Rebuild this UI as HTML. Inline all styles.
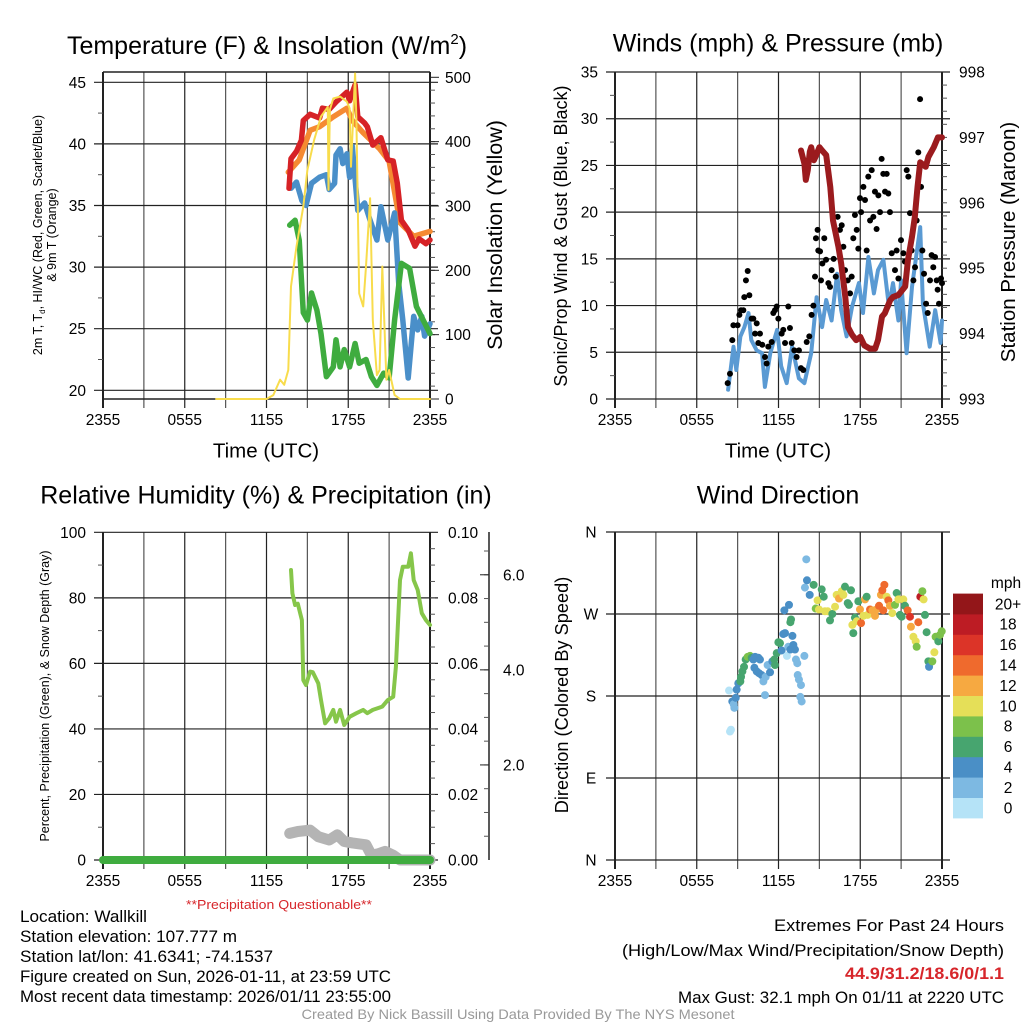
<!DOCTYPE html>
<html><head><meta charset="utf-8">
<style>
html,body{margin:0;padding:0;background:#fff;}
svg{display:block;font-family:"Liberation Sans",sans-serif;}
</style></head>
<body>
<svg id="chart" width="1024" height="1024" viewBox="0 0 1024 1024" xmlns="http://www.w3.org/2000/svg">
<rect x="0" y="0" width="1024" height="1024" fill="#fff"/>
<g id="layer"></g>
<text x="267" y="54" font-size="25" text-anchor="middle">Temperature (F) &amp; Insolation (W/m<tspan font-size="15" dy="-10">2</tspan><tspan dy="10">)</tspan></text>
<text x="778" y="45" font-size="25" text-anchor="middle" dominant-baseline="middle">Winds (mph) &amp; Pressure (mb)</text>
<text x="266" y="497" font-size="25" text-anchor="middle" dominant-baseline="middle">Relative Humidity (%) &amp; Precipitation (in)</text>
<text x="778" y="497" font-size="25" text-anchor="middle" dominant-baseline="middle">Wind Direction</text>
<text x="266" y="452" font-size="20.5" text-anchor="middle" dominant-baseline="middle">Time (UTC)</text>
<text x="778" y="452" font-size="20.5" text-anchor="middle" dominant-baseline="middle">Time (UTC)</text>
<text transform="translate(42,235) rotate(-90)" font-size="12.5" text-anchor="middle">2m T, T<tspan font-size="8" dy="3">d</tspan><tspan dy="-3">, HI/WC (Red, Green, Scarlet/Blue)</tspan></text>
<text transform="translate(56,235) rotate(-90)" font-size="12.5" text-anchor="middle">&amp; 9m T (Orange)</text>
<text transform="translate(502,235) rotate(-90)" font-size="21.5" text-anchor="middle">Solar Insolation (Yellow)</text>
<text transform="translate(567,236) rotate(-90)" font-size="18" text-anchor="middle">Sonic/Prop Wind &amp; Gust (Blue, Black)</text>
<text transform="translate(1015,242) rotate(-90)" font-size="20.5" text-anchor="middle">Station Pressure (Maroon)</text>
<text transform="translate(49,696) rotate(-90)" font-size="12.5" text-anchor="middle">Percent, Precipitation (Green), &amp; Snow Depth (Gray)</text>
<text transform="translate(568,695) rotate(-90)" font-size="18.2" text-anchor="middle">Direction (Colored By Speed)</text>
<text x="279" y="909" font-size="13" fill="#d7262b" text-anchor="middle" textLength="186" lengthAdjust="spacingAndGlyphs">**Precipitation Questionable**</text>
<g font-size="17">
<text x="20" y="922" textLength="127" lengthAdjust="spacingAndGlyphs">Location: Wallkill</text>
<text x="20" y="942" textLength="217" lengthAdjust="spacingAndGlyphs">Station elevation: 107.777 m</text>
<text x="20" y="962" textLength="253" lengthAdjust="spacingAndGlyphs">Station lat/lon: 41.6341; -74.1537</text>
<text x="20" y="982" textLength="371" lengthAdjust="spacingAndGlyphs">Figure created on Sun, 2026-01-11, at 23:59 UTC</text>
<text x="20" y="1002" textLength="371" lengthAdjust="spacingAndGlyphs">Most recent data timestamp: 2026/01/11 23:55:00</text>
</g>
<g font-size="17" text-anchor="end">
<text x="1004" y="931" textLength="230" lengthAdjust="spacingAndGlyphs">Extremes For Past 24 Hours</text>
<text x="1004" y="956" textLength="382" lengthAdjust="spacingAndGlyphs">(High/Low/Max Wind/Precipitation/Snow Depth)</text>
<text x="1004" y="979" textLength="159" lengthAdjust="spacingAndGlyphs" font-weight="bold" fill="#d7262b">44.9/31.2/18.6/0/1.1</text>
<text x="1004" y="1003" textLength="326" lengthAdjust="spacingAndGlyphs">Max Gust: 32.1 mph On 01/11 at 2220 UTC</text>
</g>
<text x="518" y="1019" font-size="14" fill="#999" text-anchor="middle" textLength="433" lengthAdjust="spacingAndGlyphs">Created By Nick Bassill Using Data Provided By The NYS Mesonet</text>
</svg>
<script>
// ---- data (hours since 2355 UTC) ----
const xTickLabels = ["2355","0555","1155","1755","2355"];
const tempTicks = [20,25,30,35,40,45];
const insolTicks = [0,100,200,300,400,500];
const windTicks = [0,5,10,15,20,25,30,35];
const presTicks = [993,994,995,996,997,998];
const rhTicks = [0,20,40,60,80,100];
const precipTicks = ["0.00","0.02","0.04","0.06","0.08","0.10"];
const snowTicks = [2.0,4.0,6.0];
const dirTickLabels = ["N","E","S","W","N"];
const dirTickValues = [0,90,180,270,360];
const speedBins = ["0","2","4","6","8","10","12","14","16","18","20+"];
const speedColors = ["#b5e3f7","#7db9e2","#4a8fc6","#47a56f","#7cc14b","#e5df58","#f6a941","#ef6a2d","#dc3428","#bd1c24","#931619"];

const redT = [13.65,13.8,14.2,14.56,14.7,15.2,15.9,16.1,16.6,17.1,17.9,18.1,18.5,18.7,19.2,19.4,19.8,20.4,20.9,21.3,21.6,21.9,22.4,22.9,23.2,23.7,24];
const redV = [36.4,38.8,39.4,40.3,41.9,42.4,42.1,42.9,42.8,43.4,44.2,43.5,44.8,42.2,41.7,41.4,39.9,40.5,38.7,38.6,36.8,33.8,33.0,31.7,32.3,31.9,32.2];
const orangeT = [13.6,14.4,15.2,15.9,16.9,17.9,18.3,19.1,20.3,21.0,21.8,22.8,24];
const orangeV = [37.7,38.7,41.1,41.4,42.2,42.9,41.9,40.9,39.6,38.6,33.6,32.5,32.9];
const blueT = [13.8,14.2,14.6,14.9,15.3,15.9,16.4,16.6,17.0,17.1,17.4,17.6,17.9,18.1,18.3,18.7,19.2,19.6,20.1,20.4,20.9,21.4,21.7,22.0,22.4,22.8,23.1,23.4,23.6,24];
const blueV = [36.4,36.9,35.4,35.0,36.8,37.3,37.5,36.3,36.8,39.1,39.6,38.4,39.2,37.3,39.8,34.6,35.2,33.8,32.2,34.9,32.2,34.4,28.7,25.7,21.0,26.0,24.9,26.0,24.4,25.4];
const greenT = [13.7,14.1,14.4,14.7,15.0,15.3,15.7,16.0,16.4,16.9,17.1,17.4,17.7,18.1,18.5,18.8,19.3,19.7,20.1,20.6,21.0,21.4,21.9,22.5,23.0,23.5,24];
const greenV = [33.4,33.8,32.2,26.3,25.7,27.9,26.5,24.6,21.1,21.9,24.1,21.9,23.3,21.9,23.8,22.2,22.5,21.1,20.4,21.4,21.0,25.7,30.3,29.9,26.8,25.7,24.6];
const insolT = [8.3,12.0,12.5,13.0,13.3,13.6,13.8,14.2,14.7,15.0,15.5,16.0,16.5,16.55,16.65,16.9,17.4,17.9,18.1,18.2,18.5,18.6,18.8,19.1,19.3,19.6,19.8,20.1,20.3,20.5,20.8,21.0,21.4,21.8,24];
const insolV = [0,0,6,30,22,45,175,237,299,356,403,439,454,325,450,467,470,462,452,361,506,434,164,144,206,312,123,37,45,206,30,45,6,0,0];

const sustT = [8.3,8.7,8.9,9.2,9.5,9.8,10.0,10.4,10.8,11.0,11.4,11.9,12.2,12.6,13.0,13.5,13.9,14.4,14.8,15.2,15.5,15.9,16.3,16.6,17.0,17.4,17.9,18.2,18.6,19.0,19.3,19.7,20.1,20.4,20.8,21.0,21.4,21.8,22.4,22.6,23.1,23.5,23.9,24];
const sustV = [1,5.6,3.1,6.7,7.7,9.2,6.3,5.2,4.9,1.3,4.9,7.4,3.5,1.7,5.6,2.2,1.7,4.9,10.9,7.7,10.6,8.4,13.4,9.5,6.7,9.9,12.4,9.2,15.2,11.3,13.8,14.9,9.9,12.4,8.4,12.7,4.9,12.0,18.4,10.2,5.6,9.5,6.0,8.4];
const gustT = [8.27,8.44,8.61,8.69,9.00,9.13,9.25,9.42,9.49,9.61,9.74,9.86,10.03,10.15,10.28,10.40,10.52,10.64,10.81,11.01,11.13,11.25,11.50,11.62,11.74,11.87,11.99,12.23,12.35,12.48,12.72,12.84,12.97,13.16,13.33,13.50,13.65,13.82,14.07,14.26,14.43,14.56,14.68,14.75,14.87,14.92,15.05,15.12,15.22,15.36,15.49,15.66,15.78,15.90,16.05,16.20,16.34,16.51,16.64,16.76,16.88,17.08,17.25,17.37,17.49,17.61,17.74,17.86,17.98,18.06,18.23,18.35,18.47,18.59,18.72,18.84,18.96,19.08,19.20,19.33,19.45,19.57,19.69,19.82,19.94,20.06,20.18,20.31,20.55,20.67,20.80,20.99,21.16,21.28,21.41,21.53,21.65,21.77,21.90,22.02,22.14,22.26,22.39,22.46,22.56,22.68,22.83,22.95,23.12,23.24,23.36,23.49,23.61,23.68,23.78,23.93,24.0];
const gustV = [1.7,2.7,6.3,7.9,7.9,9.0,9.5,9.5,10.9,12.7,13.7,11.1,8.6,8.6,7.0,8.1,6.0,7.0,5.8,4.5,3.8,5.6,6.1,9.2,9.5,9.9,8.6,7.0,7.4,6.0,9.9,7.6,6.0,5.2,4.5,5.2,3.3,3.1,6.1,6.7,9.0,10.0,13.1,17.2,18.1,15.9,15.8,12.7,14.5,17.2,14.9,12.4,12.0,13.8,15.0,13.1,19.5,18.1,18.6,16.3,13.8,12.7,11.3,13.1,17.2,19.7,18.1,16.1,21.5,20.0,22.7,21.3,15.9,23.8,19.1,24.5,19.5,22.2,18.2,21.8,20.0,25.7,24.1,22.2,24.1,22.0,20.0,15.6,13.8,15.9,12.9,17.0,15.6,14.7,24.5,23.8,19.9,15.9,12.7,14.1,19.1,26.4,32.1,22.7,15.9,13.4,10.2,9.2,12.7,15.4,14.1,15.2,12.7,11.7,10.2,12.9,12.4];
const presT = [13.65,13.9,14.0,14.15,14.3,14.4,14.6,14.75,15.0,15.2,15.5,15.8,16.0,16.4,16.6,16.9,17.1,17.4,17.7,18.0,18.3,18.7,19.1,19.3,19.6,19.8,20.2,20.4,20.8,21.3,21.5,21.8,22.0,22.2,22.4,22.8,23.0,23.4,23.7,24];
const presV = [996.80,996.6,996.35,996.5,996.78,996.85,996.65,996.72,996.85,996.8,996.73,996.24,995.73,995.33,995.07,994.56,994.10,993.98,993.90,993.95,993.82,993.77,993.77,993.90,994.26,994.31,994.51,994.56,994.59,994.72,995.12,995.48,995.78,996.24,996.62,996.55,996.70,996.85,997.0,997.0];

const rhT = [13.8,13.9,14.1,14.3,14.6,14.7,14.9,15.2,15.4,15.8,16.0,16.3,16.6,16.9,17.1,17.4,17.7,18.1,18.6,19.1,19.4,19.8,20.5,20.9,21.3,21.5,21.8,22.0,22.4,22.6,22.8,23.1,23.4,23.7,24];
const rhV = [88.5,81.4,77.8,78.2,73.2,54.9,53.4,57.5,57.3,53.9,48.8,41.7,43.2,45.8,42.2,45.8,41.2,43.7,44.8,45.8,44.8,45.8,46.8,48.8,49.8,59.0,85.4,89.5,89.5,93.6,85.4,82.4,75.3,73.2,71.7];
const snowT = [13.7,14.3,15.2,15.8,16.6,17.2,17.7,18.3,19.3,19.7,20.2,20.7,21.3,21.8,24];
const snowV = [0.56,0.6,0.63,0.49,0.42,0.53,0.39,0.36,0.32,0.1,0.13,0.18,0.1,0,0];
const precipT = [0,24];
const precipV = [0,0];

const dirT = [8.37,8.44,8.51,8.61,8.71,8.76,8.86,8.93,9.05,9.20,9.25,9.35,9.47,9.59,9.74,9.91,10.03,10.15,10.28,10.40,10.52,10.64,10.23,10.40,10.57,10.76,10.89,11.06,11.20,11.01,11.38,11.55,11.69,11.74,11.87,11.99,12.11,12.23,12.35,12.48,12.62,12.72,12.87,13.02,13.09,13.21,13.28,13.38,13.41,13.50,13.65,13.60,13.70,13.90,12.43,12.77,12.92,12.87,13.94,14.04,14.09,14.29,14.58,14.73,14.87,14.97,15.17,15.32,15.41,15.61,15.78,15.95,16.15,16.27,16.44,16.64,16.76,16.88,17.08,17.17,17.32,17.42,17.49,17.61,17.74,17.86,17.98,18.06,18.23,18.35,18.47,18.54,18.72,18.89,19.08,19.20,19.38,19.52,19.62,19.77,19.69,19.94,20.06,20.18,20.35,20.55,20.67,20.80,20.92,21.04,21.16,21.28,21.48,21.65,21.72,21.90,22.07,22.14,22.26,22.41,22.56,22.65,22.75,22.87,23.00,23.05,23.29,23.44,23.53,23.73,23.85,23.98];
const dirV = [186,141,143,174,171,167,178,187,194,196,201,207,212,220,223,224,222,220,223,222,222,220,211,207,205,203,196,201,214,181,206,218,220,214,227,239,238,230,248,249,224,234,231,246,236,231,220,216,203,198,192,179,174,224,274,280,264,261,299,330,307,291,302,276,285,275,297,289,273,273,263,270,278,291,287,295,291,300,282,280,296,258,249,266,262,284,275,260,268,286,289,269,275,274,268,275,279,291,296,302,274,289,285,279,271,280,293,286,269,267,286,279,274,267,256,245,240,234,261,289,295,286,269,250,218,212,218,228,245,240,247,251];
const dirSpd = [1,0.5,0.5,5,3,3,5,5,4,6,6,7,7,7,8,8,7,4,4,4,4,4,4,4,4,4,2,2,2,2,4,4,6,6,6,6,6,4,4,4,1,2,4,4,4,4,2,2,2,2,2,2,2,2,4,4,6,6,2,2,4,4,6,8,10,10,7,7,10,10,6,7,11,10,12,10,10,7,7,6,6,10,6,7,10,6,12,15,11,12,7,10,14,12,12,12,14,13,15,15,14,11,15,12,10,8,7,10,6,7,10,7,15,16,12,10,10,8,15,18,8,10,6,6,6,4,8,10,8,6,8,8];

// ---- drawing ----
const NS = "http://www.w3.org/2000/svg";
const layer = document.getElementById('layer');
function mk(tag, parent){ const e=document.createElementNS(NS,tag); (parent||layer).appendChild(e); return e; }
function scale(d0,d1,r0,r1){ return v => r0 + (v-d0)*(r1-r0)/(d1-d0); }

const L = {left:{x0:103,x1:430}, right:{x0:615,x1:942}};
function xs(p){ return scale(0,24,p.x0,p.x1); }
const TICKFS = '15.5';

function frame(x0,x1,y0,y1,name){
  const xf = scale(0,24,x0,x1);
  for(let h=0;h<=24;h+=3){
    const g=mk('line');
    
    
    g.setAttribute('x1',xf(h)); g.setAttribute('x2',xf(h)); g.setAttribute('y1',y0); g.setAttribute('y2',y1+9);
    g.setAttribute('stroke', (h%6===0)?'#222':'#555'); g.setAttribute('stroke-width', (h===0||h===24)?2:1.2);
  }
  for(let i=0;i<xTickLabels.length;i++){
    const t=mk('text');
    
    
    t.setAttribute('x',xf(i*6)); t.setAttribute('y',y1+26); t.setAttribute('font-size',TICKFS); t.setAttribute('text-anchor','middle');
    t.textContent=xTickLabels[i];
  }
}
function hline(x0,x1,y,name,w){
  const g=mk('line');
  
  
  g.setAttribute('x1',x0); g.setAttribute('x2',x1); g.setAttribute('y1',y); g.setAttribute('y2',y);
  g.setAttribute('stroke','#222'); g.setAttribute('stroke-width',w||1.2);
}
function ylabels(vals,ys,x,anchor,name,fmt){
  for(const v of vals){
    const t=mk('text');
    
    
    t.setAttribute('x',x); t.setAttribute('y',ys(typeof v==='string'?parseFloat(v):v)+5.5); t.setAttribute('font-size',TICKFS); t.setAttribute('text-anchor',anchor);
    t.textContent = fmt?fmt(v):v;
  }
}
function minor(x, ys, from, to, step, dir, name){
  for(let v=from; v<=to+1e-9; v+=step){
    const m=mk('line');
    
    
    m.setAttribute('x1',x); m.setAttribute('x2',x+dir*5); m.setAttribute('y1',ys(v)); m.setAttribute('y2',ys(v));
    m.setAttribute('stroke','#555'); m.setAttribute('stroke-width',1);
  }
}
function path(T,V,xf,yf,color,w,name){
  let d='';
  for(let i=0;i<T.length;i++) d+=(i?'L':'M')+xf(T[i]).toFixed(1)+','+yf(V[i]).toFixed(1);
  const p=mk('path');
  
  
  p.setAttribute('d',d); p.setAttribute('fill','none'); p.setAttribute('stroke',color); p.setAttribute('stroke-width',w);
  p.setAttribute('stroke-linejoin','round'); p.setAttribute('stroke-linecap','round');
  return p;
}

// Panel 1
{
  const x0=103,x1=430,y0=72,y1=399;
  const xf=xs(L.left), yT=scale(20,45,390.3,82.3), yI=scale(0,500,399,77.3);
  frame(x0,x1,y0,y1,'temp');
  for(const v of tempTicks) hline(94,438,yT(v),'temp-grid-line');
  hline(x0,x1,y0,'temp-top-border',1.5); hline(x0,x1,y1,'temp-bottom-border',1.5);
  minor(x0,yT,22.5,42.5,5,-1,'temp-minor-tick');
  minor(x1,yI,20,480,20,1,'insol-minor-tick');
  for(const v of insolTicks){ const m=mk('line');   m.setAttribute('x1',x1); m.setAttribute('x2',x1+9); m.setAttribute('y1',yI(v)); m.setAttribute('y2',yI(v)); m.setAttribute('stroke','#222'); }
  ylabels(tempTicks,yT,86,'end','temp-y-tick-label');
  ylabels(insolTicks,yI,445,'start','insol-y-tick-label');
  path(orangeT,orangeV,xf,yT,'#f58a32',5.5,'series-9m-temp');
  path(blueT,blueV,xf,yT,'#4a8fc9',5.5,'series-hi-wc');
  path(greenT,greenV,xf,yT,'#3fac3f',5.5,'series-dewpoint');
  path(redT,redV,xf,yT,'#d62226',5.5,'series-2m-temp');
  path(insolT,insolV,xf,yI,'#f8dc4c',2,'series-insolation');
}
// Panel 2
{
  const x0=615,x1=942,y0=72,y1=399;
  const xf=xs(L.right), yW=scale(0,35,399,72), yP=scale(993,998,399,72);
  frame(x0,x1,y0,y1,'wind');
  for(const v of windTicks) hline(606,950,yW(v),'wind-grid-line');
  minor(x0,yW,2.5,32.5,5,-1,'wind-minor-tick');
  minor(x1,yP,993.2,997.8,0.2,1,'pressure-minor-tick');
  ylabels(windTicks,yW,598,'end','wind-y-tick-label');
  ylabels(presTicks,yP,959,'start','pressure-y-tick-label');
  path(sustT,sustV,xf,yW,'#5a9ad3',4,'series-sustained-wind');
  for(let i=0;i<gustT.length;i++){
    const c=mk('circle');
    
    
    c.setAttribute('cx',xf(gustT[i])); c.setAttribute('cy',yW(gustV[i])); c.setAttribute('r',3); c.setAttribute('fill','#000');
  }
  path(presT,presV,xf,yP,'#9b1b1e',6,'series-pressure');
}
// Panel 3
{
  const x0=103,x1=430,y0=532,y1=860;
  const xf=xs(L.left), yR=scale(0,100,860,532.3), yS=scale(0,6.9,860,532);
  frame(x0,x1,y0,y1,'rh');
  for(const v of rhTicks) hline(94,438,yR(v),'rh-grid-line');
  minor(x0,yR,10,90,20,-1,'rh-minor-tick');
  minor(x1,yR,5,95,5,1,'precip-minor-tick');
  ylabels(rhTicks,yR,86,'end','rh-y-tick-label');
  ylabels(precipTicks,v=>yR(v*1000),448,'start','precip-y-tick-label');
  const ax=mk('line');  
  ax.setAttribute('x1',489); ax.setAttribute('x2',489); ax.setAttribute('y1',532); ax.setAttribute('y2',860); ax.setAttribute('stroke','#222'); ax.setAttribute('stroke-width',1.5);
  minor(489,yS,0.5,6.5,0.5,-1,'snow-minor-tick');
  for(const v of snowTicks){ const m=mk('line');   m.setAttribute('x1',489); m.setAttribute('x2',480); m.setAttribute('y1',yS(v)); m.setAttribute('y2',yS(v)); m.setAttribute('stroke','#222'); }
  ylabels(snowTicks,yS,503,'start','snow-y-tick-label',v=>v.toFixed(1));
  path(snowT,snowV,xf,yS,'#b4b4b4',11,'series-snow-depth');
  path(precipT,precipV,xf,v=>yR(v*1000),'#3fac3f',8,'series-precip');
  path(rhT,rhV,xf,yR,'#86c64a',4,'series-rh');
}
// Panel 4
{
  const x0=615,x1=942,y0=532,y1=860;
  const xf=xs(L.right), yD=scale(0,360,860,532);
  frame(x0,x1,y0,y1,'dir');
  for(let i=0;i<dirTickValues.length;i++){
    hline(606,950,yD(dirTickValues[i]),'dir-grid-line');
    const t=mk('text');
    
    
    t.setAttribute('x',591); t.setAttribute('y',yD(dirTickValues[i])+5.5); t.setAttribute('font-size',TICKFS); t.setAttribute('text-anchor','middle');
    t.textContent=dirTickLabels[i];
  }
  for(let i=0;i<dirT.length;i++){
    const bin=Math.min(10,Math.floor(dirSpd[i]/2));
    const c=mk('circle');
    
    
    c.setAttribute('cx',xf(dirT[i])); c.setAttribute('cy',yD(dirV[i])); c.setAttribute('r',4); c.setAttribute('fill',speedColors[bin]);
  }
  const by0=818, bh=20.4;
  for(let i=0;i<speedBins.length;i++){
    const r=mk('rect');
    
    
    r.setAttribute('x',953); r.setAttribute('y',by0-(i+1)*bh); r.setAttribute('width',30); r.setAttribute('height',bh+0.4); r.setAttribute('fill',speedColors[i]);
    const t=mk('text');
    
    
    t.setAttribute('x',1008); t.setAttribute('y',by0-(i+0.5)*bh+5.5); t.setAttribute('font-size',TICKFS); t.setAttribute('text-anchor','middle');
    t.textContent=speedBins[i];
  }
  const u=mk('text');
  
  
  u.setAttribute('x',1006); u.setAttribute('y',588); u.setAttribute('font-size',TICKFS); u.setAttribute('text-anchor','middle');
  u.textContent='mph';
}
</script>
</body></html>
